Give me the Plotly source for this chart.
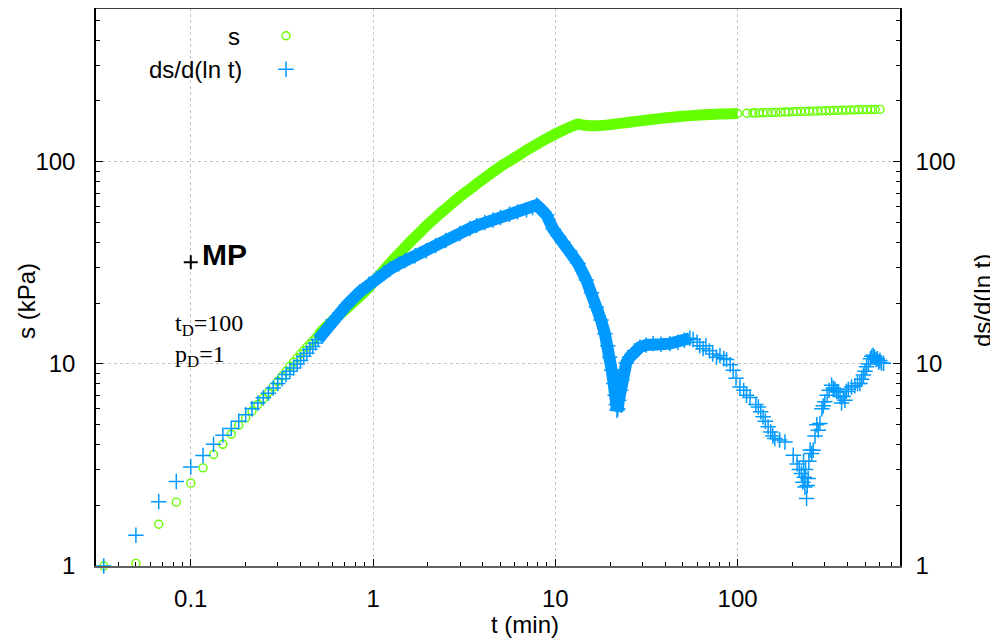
import plotly.graph_objects as go

# ---------------- data ----------------
# drawdown s (kPa) vs time t (min)
s_t_early = [0.0333, 0.05, 0.0667, 0.0833, 0.1, 0.1167, 0.1333, 0.15, 0.1667, 0.1833,
             0.2, 0.2167, 0.2333, 0.25, 0.2667, 0.2833, 0.3, 0.3167, 0.3333, 0.35,
             0.3667, 0.3833, 0.4, 0.4167, 0.4333, 0.45, 0.4667, 0.4833]
s_early = [1.00, 1.03, 1.61, 2.07, 2.57, 3.06, 3.56, 4.0, 4.49, 4.97,
           5.40, 5.85, 6.3, 6.75, 7.2, 7.7, 8.2, 8.7, 9.2, 9.75,
           10.2, 10.7, 11.2, 11.65, 12.1, 12.55, 13.0, 13.45]

s_t_dense = [0.5, 0.578, 0.715, 0.82, 0.92, 1.0, 1.09, 1.2, 1.29, 1.45, 1.6, 1.8, 1.96,
             2.2, 2.5, 2.99, 3.4, 3.7, 4.1, 4.56, 5.0, 5.6, 6.2, 6.95, 7.7, 8.5, 9.5,
             10.6, 11.4, 12.3, 13.3, 14.0, 15.0, 16.1, 17.5, 19.5, 22, 26.7, 32, 40.8,
             50, 62.1, 80, 100]
s_dense = [13.9, 15.85, 18.8, 21.0, 23.2, 25.3, 27.6, 30.5, 32.8, 36.6, 40.2, 44.6, 48.2,
           53.0, 58.5, 67.1, 73.3, 77.7, 83.3, 89.2, 94.7, 100.9, 106.8, 114.2, 120.3, 126.8, 134.0,
           140.8, 145.2, 149.6, 153.7, 152.3, 151.2, 150.8, 151.0, 152.3, 154.5, 157.8, 161, 165.2,
           168, 170.3, 172.5, 173.5]

s_t_late = [112.6, 121, 125, 131, 138, 145, 154, 162, 172, 182, 190, 201, 211, 222, 235,
            247, 260, 274, 289, 304, 320, 337, 355, 374, 394, 416, 438, 461, 486, 512,
            540, 568, 604]
s_late = [174.0, 174.3, 174.4, 174.6, 174.9, 175.1, 175.4, 175.7, 176.0, 176.3, 176.5,
          176.8, 177.1, 177.3, 177.6, 177.9, 178.1, 178.4, 178.7, 178.9, 179.2, 179.4,
          179.7, 179.9, 180.2, 180.4, 180.7, 180.9, 181.1, 181.3, 181.5, 181.6, 181.7]

# derivative ds/d(ln t) vs time t (min)
d_t_early = s_t_early
d_early = [1.0, 1.42, 2.08, 2.62, 3.09, 3.52, 4.0, 4.44, 4.79, 5.2,
           5.6, 6.0, 6.4, 6.8, 7.15, 7.6, 8.0, 8.45, 8.85, 9.2,
           9.55, 10.0, 10.4, 10.9, 11.3, 11.8, 12.2, 12.7]

d_t_dense = [0.5, 0.603, 0.715, 0.845, 0.95, 1.04, 1.15, 1.24, 1.38, 1.5, 1.7, 1.96, 2.2,
             2.5, 2.99, 3.4, 3.7, 4.1, 4.56, 5.0, 5.6, 6.2, 6.95, 7.5, 7.89, 8.3, 8.95,
             9.72, 10.4, 11.0, 12.0, 13.3, 14.8, 15.8, 16.8, 17.8, 18.7, 19.4, 19.9, 20.4,
             20.9, 21.3, 21.6, 21.8, 22.0, 22.3, 22.8, 23.2, 23.6, 24.5, 25.6, 27.2, 29.1,
             31.5, 34.4, 38, 42.5, 47, 51, 54.7]
d_dense = [13.2, 16.5, 19.5, 22.7, 24.8, 26.5, 28.2, 29.5, 31.2, 32.5, 34.3, 36.3, 38.5,
           40.8, 44.2, 46.8, 48.3, 50.0, 51.5, 53.0, 55.0, 56.5, 57.8, 59.3, 61.0, 58.5, 54.5,
           46.5, 42.8, 40.0, 36.2, 31.5, 26.0, 22.5, 19.1, 16.5, 14.1, 12.3, 10.8, 9.3,
           8.0, 7.0, 6.3, 5.9, 6.0, 6.6, 7.4, 8.3, 9.3, 10.1, 10.8, 11.6, 12.1,
           12.4, 12.6, 12.5, 12.6, 12.8, 13.1, 13.4]

d_t_late = [57, 60, 62, 64.7, 67, 70, 73, 76.7, 80, 84, 87, 91, 94.6, 98, 103, 108, 112,
            117, 126, 130, 134, 138, 142, 147, 152, 156, 160, 170, 182, 202,
            212, 218, 224, 228, 230, 232, 234, 236, 239, 241, 244, 246, 250, 255, 260,
            266, 272, 277, 283, 290, 295, 301, 310, 318, 328, 335, 342, 350, 357, 365,
            372, 380, 388, 395, 405, 422, 440, 455, 469, 480, 490, 500, 510, 522, 535,
            545, 555, 565, 575, 585, 595, 604, 615, 632]
d_late = [13.2, 12.8, 12.3, 11.9, 12.3, 11.6, 11.2, 10.8, 11.0, 10.6, 10.5, 9.9, 9.3, 8.5,
          7.69, 7.4, 7.0, 6.82, 6.3, 6.12, 5.8, 5.47, 5.2, 4.88, 4.6, 4.4, 4.27, 4.2,
          4.11, 3.53, 3.2, 3.0, 2.87, 2.6, 3.3, 2.75, 2.46, 3.0, 2.16, 2.5, 2.71, 3.3,
          3.75, 3.6, 3.74, 4.4, 5.0, 4.7, 5.07, 6.0, 6.2, 6.49, 7.0, 7.4, 7.85, 7.6, 7.5,
          7.3, 7.27, 6.9, 6.4, 6.9, 6.61, 7.3, 7.5, 7.69, 7.8, 8.0, 8.0, 8.4, 8.8, 9.2,
          9.67, 10.0, 10.6, 10.9, 11.04, 10.8, 10.5, 10.6, 10.2, 10.4, 10.1, 10.07]

# match point
mp_t = [0.1]
mp_v = [31.8]

x_tick_vals = [0.1, 1, 10, 100]
x_tick_text = ["0.1", "1", "10", "100"]
y_tick_vals = [1, 10, 100]
y_tick_text = ["1", "10", "100"]

# ---------------- styling ----------------
GREEN = "#66FF00"
BLUE = "#0099FF"
FONT = "Liberation Sans, Arial, sans-serif"
SERIF = "Liberation Serif, Times New Roman, serif"

X_RANGE = [-1.52, 2.891]
Y_RANGE = [0.0, 2.761]

# the page body has an 8 px margin: the figure is offset by (8, 8) in the window
OFF = 8
W, H = 998 - OFF, 644 - OFF
PL, PR, PT, PB = 96, 900, 8, 566     # plot area in window pixels

x_minor = [k * 10 ** e for e in range(-2, 3) for k in range(2, 10)]
y_minor = [k * 10 ** e for e in range(0, 3) for k in range(2, 10)]

fig = go.Figure()

# s : dense band + markers
fig.add_trace(go.Scatter(x=s_t_dense, y=s_dense, mode="lines",
                         line=dict(color=GREEN, width=11, shape="spline", smoothing=0.6),
                         hoverinfo="skip", showlegend=False))
fig.add_trace(go.Scatter(x=s_t_early + s_t_dense + s_t_late, y=s_early + s_dense + s_late,
                         mode="markers", name="s", cliponaxis=False,
                         marker=dict(symbol="circle-open", size=8, color=GREEN,
                                     line=dict(color=GREEN, width=1.4)),
                         showlegend=False))

# ds/d(ln t) : dense band + markers (right axis)
fig.add_trace(go.Scatter(x=d_t_dense, y=d_dense, mode="lines", yaxis="y2",
                         line=dict(color=BLUE, width=12), hoverinfo="skip",
                         showlegend=False))
fig.add_trace(go.Scatter(x=d_t_early + d_t_dense + d_t_late, y=d_early + d_dense + d_late,
                         mode="markers", name="ds/d(ln t)", yaxis="y2", cliponaxis=False,
                         marker=dict(symbol="cross-thin-open", size=11, color=BLUE,
                                     line=dict(color=BLUE, width=1.5)),
                         showlegend=False))

# match point marker
fig.add_trace(go.Scatter(x=mp_t, y=mp_v, mode="markers", showlegend=False,
                         marker=dict(symbol="cross-thin-open", size=10, color="black",
                                     line=dict(color="black", width=2))))


def px_x(px):
    return (px - PL) / float(PR - PL)


def px_y(py):
    return (PB - py) / float(PB - PT)


# legend keys (on an invisible 0..1 overlay axis)
fig.add_trace(go.Scatter(x=[px_x(286)], y=[px_y(35.7)], xaxis="x3", yaxis="y3", mode="markers",
                         showlegend=False, hoverinfo="skip", cliponaxis=False,
                         marker=dict(symbol="circle-open", size=8, color=GREEN,
                                     line=dict(color=GREEN, width=1.4))))
fig.add_trace(go.Scatter(x=[px_x(286)], y=[px_y(69.3)], xaxis="x3", yaxis="y3", mode="markers",
                         showlegend=False, hoverinfo="skip", cliponaxis=False,
                         marker=dict(symbol="cross-thin-open", size=11, color=BLUE,
                                     line=dict(color=BLUE, width=1.5))))

annotations = [
    dict(text="s", x=px_x(242), y=px_y(36.5), xanchor="right", yanchor="middle",
         font=dict(family=FONT, size=24, color="black")),
    dict(text="ds/d(ln t)", x=px_x(244), y=px_y(69.5), xanchor="right", yanchor="middle",
         font=dict(family=FONT, size=24, color="black")),
    dict(text="<b>MP</b>", x=px_x(200), y=px_y(254), xanchor="left", yanchor="middle",
         font=dict(family=FONT, size=30, color="black")),
    dict(text="t<sub>D</sub>=100", x=px_x(173), y=px_y(325), xanchor="left", yanchor="middle",
         font=dict(family=SERIF, size=24, color="black")),
    dict(text="p<sub>D</sub>=1", x=px_x(173), y=px_y(356), xanchor="left", yanchor="middle",
         font=dict(family=SERIF, size=24, color="black")),
    dict(text="t (min)", x=px_x(525), y=px_y(624), xanchor="center", yanchor="middle",
         font=dict(family=FONT, size=24, color="black")),
    dict(text="s (kPa)", x=px_x(26), y=px_y(301), xanchor="center", yanchor="middle",
         textangle=-90, font=dict(family=FONT, size=24, color="black")),
    dict(text="ds/d(ln t)", x=px_x(982), y=px_y(301), xanchor="center", yanchor="middle",
         textangle=-90, font=dict(family=FONT, size=24, color="black")),
]
for a in annotations:
    a.update(xref="paper", yref="paper", showarrow=False)

axis_common = dict(type="log", showline=True, ticks="inside", ticklen=7, tickwidth=1,
                   tickcolor="black", tickfont=dict(family=FONT, size=24, color="black"),
                   zeroline=False, automargin=False)

fig.update_layout(
    width=W, height=H,
    margin=dict(l=PL - OFF, r=W - (PR - OFF), t=PT - OFF, b=H - (PB - OFF), autoexpand=False),
    paper_bgcolor="white", plot_bgcolor="white",
    showlegend=False,
    annotations=annotations,
    xaxis=dict(**axis_common, range=X_RANGE, tickvals=x_tick_vals, ticktext=x_tick_text,
               linecolor="#606060", linewidth=2,
               showgrid=True, gridcolor="#c4c4c4", griddash="dot", gridwidth=1,
               ticklabelstandoff=10,
               minor=dict(ticks="inside", ticklen=4, tickcolor="black", tickvals=x_minor,
                          showgrid=False)),
    yaxis=dict(**axis_common, range=Y_RANGE, tickvals=y_tick_vals, ticktext=y_tick_text,
               linecolor="black", linewidth=1.5,
               showgrid=True, gridcolor="#c4c4c4", griddash="dot", gridwidth=1,
               ticklabelstandoff=14,
               minor=dict(ticks="inside", ticklen=4, tickcolor="black", tickvals=y_minor,
                          showgrid=False)),
    yaxis2=dict(**axis_common, range=Y_RANGE, tickvals=y_tick_vals, ticktext=y_tick_text,
                overlaying="y", side="right", anchor="x",
                linecolor="black", linewidth=1.5, showgrid=False,
                ticklabelstandoff=9,
                minor=dict(ticks="inside", ticklen=4, tickcolor="black", tickvals=y_minor,
                           showgrid=False)),
    xaxis3=dict(range=[0, 1], overlaying="x", anchor="y3", visible=False, fixedrange=True),
    yaxis3=dict(range=[0, 1], overlaying="y", anchor="x3", visible=False, fixedrange=True),
    shapes=[dict(type="line", xref="paper", yref="paper", x0=0, x1=1, y0=1, y1=1,
                 line=dict(color="black", width=1.5))],
)

fig.write_html("out.html")
